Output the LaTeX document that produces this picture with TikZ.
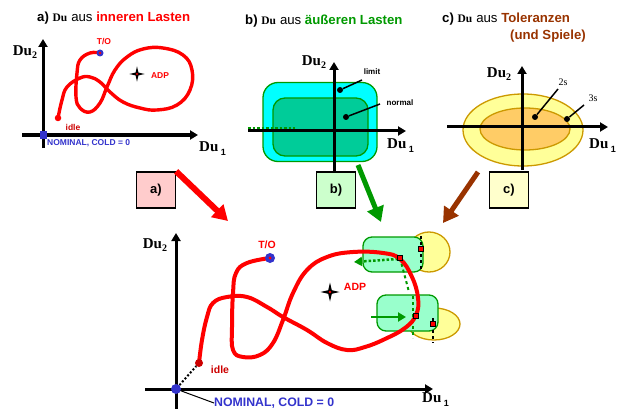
\documentclass[tikz,border=0pt]{standalone}
\usepackage{fontspec}
\setmainfont{Liberation Serif}
\setsansfont{Liberation Sans}
\usepackage{tikz}
\usetikzlibrary{arrows.meta}
\definecolor{LastRed}{HTML}{FF0000}
\definecolor{IdleRed}{HTML}{CC0000}
\definecolor{LastGreen}{HTML}{009900}
\definecolor{LastBrown}{HTML}{993300}
\definecolor{NomBlue}{HTML}{3333CC}
\definecolor{LimitCyan}{HTML}{00FFFF}
\definecolor{NormTeal}{HTML}{00CC99}
\definecolor{ZoneMint}{HTML}{99FFCC}
\definecolor{TolYellow}{HTML}{FFFF99}
\definecolor{TolGold}{HTML}{CC9900}
\definecolor{TolOrange}{HTML}{FFCC66}
\definecolor{BoxPink}{HTML}{FFCCCC}
\definecolor{BoxGreen}{HTML}{CCFFCC}
\definecolor{BoxYellow}{HTML}{FFFFCC}

\newcommand\DuTwo{{\rmfamily\bfseries\fontsize{15}{15}\selectfont Du\raisebox{-3pt}{\fontsize{10}{10}\selectfont 2}}}
\newcommand\DuOne{{\rmfamily\bfseries\fontsize{15}{15}\selectfont Du\,\raisebox{-4pt}{\sffamily\fontsize{9}{9}\selectfont 1}}}
\newcommand\DuT{{\rmfamily\bfseries\fontsize{11.5}{14}\selectfont Du}\hspace{4pt}}

\tikzset{
  duaxis/.style={line width=3pt, -{Triangle[length=8pt,width=9pt]}},
  loadpath/.style={LastRed, line width=3.4pt, line cap=round, line join=round},
  zone/.style={rectangle, draw=LastGreen, line width=1.3pt, inner sep=0pt, outer sep=0pt},
  tolring/.style={draw=TolGold, line width=1.3pt},
  statebox/.style={draw, line width=1.3pt, minimum width=39pt, minimum height=36pt, inner sep=0pt,
    font=\sffamily\bfseries\fontsize{13}{13}\selectfont},
  fatarrow/.style={line width=5pt, -{Triangle[length=15pt,width=17pt]}},
  smalltag/.style={font=\sffamily\bfseries\fontsize{8.5}{8.5}\selectfont, inner sep=0pt},
  bigtag/.style={font=\sffamily\bfseries\fontsize{10.5}{10.5}\selectfont, inner sep=0pt},
  checkpt/.style={draw=black, fill=LastRed, line width=1pt, minimum size=5pt, inner sep=0pt},
  blackdot/.style={circle, fill=black, minimum size=6pt, inner sep=0pt},
  adpstar/.pic={
    \fill[black] (0,-9.5) -- (1.8,-1.8) -- (9.5,0) -- (1.8,1.8) -- (0,9.5) -- (-1.8,1.8) -- (-9.5,0) -- (-1.8,-1.8) -- cycle;
    \fill[LastRed] (0,0) circle (1.4);
  }
}

\begin{document}
\begin{tikzpicture}[x=1pt,y=-1pt,font=\sffamily\fontsize{13.2}{15}\selectfont]
  \useasboundingbox (0,0) rectangle (618,409);

  % titles
  \node[anchor=base west, inner sep=0pt] (titlea) at (37,22)
    {\textbf{a)} \DuT aus \textcolor{LastRed}{\bfseries inneren Lasten}};
  \node[anchor=base west, inner sep=0pt] (titleb) at (245,25)
    {\textbf{b)} \DuT aus \textcolor{LastGreen}{\bfseries äußeren Lasten}};
  \node[anchor=base west, inner sep=0pt] (titlec) at (442,23)
    {\textbf{c)} \DuT aus \textcolor{LastBrown}{\bfseries Toleranzen}};
  \node[anchor=base west, inner sep=0pt, text=LastBrown, font=\sffamily\bfseries\fontsize{13.2}{15}\selectfont]
    (titlec2) at (510,40) {(und Spiele)};

  % a) inner loads
  \draw[duaxis] (22,135) -- (198,135);
  \draw[duaxis] (43,148) -- (43,39);
  \node (adu2) at (25,52) {\DuTwo};
  \node[anchor=west, inner sep=0pt] (adu1) at (199,149) {\DuOne};
  \draw[loadpath] plot[smooth, tension=0.7] coordinates {
    (58,118) (62,100) (67,87) (80,78) (90,77) (100,82) (110,92) (123,102) (140,108)
    (157,110) (177,105) (190,90) (192,70) (183,55) (163,48) (143,49) (127,57) (115,70)
    (107,87) (100,103) (90,112) (80,108) (76,97) (77,73) (80,60) (90,53) (100,53)};
  \node[circle, fill=LastRed, minimum size=6.5pt, inner sep=0pt] (aidle) at (58,118) {};
  \node[circle, fill=NomBlue, minimum size=7pt, inner sep=0pt] (ato) at (100,53) {};
  \fill[LastRed] (ato) circle (1.3);
  \node[fill=NomBlue, minimum size=7pt, inner sep=0pt] (aorigin) at (43,135) {};
  \node[smalltag, anchor=west, text=NomBlue] (anominal) at (47,143) {NOMINAL, COLD = 0};
  \node[smalltag, text=IdleRed] (aidletext) at (73,127) {idle};
  \node[smalltag, text=LastRed] (atotext) at (104,42) {T/O};
  \pic[scale=0.8] at (137,74) {adpstar};
  \node[smalltag, text=LastRed] (aadp) at (160,76) {ADP};

  % b) outer loads
  \node[zone, rounded corners=15pt, fill=LimitCyan, minimum width=114pt, minimum height=79pt] (limitzone) at (320,122) {};
  \node[zone, rounded corners=12pt, fill=NormTeal, minimum width=95pt, minimum height=58pt] (normalzone) at (320.5,127) {};
  \draw[LastGreen, line width=2.5pt, dotted] (248,128) -- (295,128);
  \draw[duaxis] (248,131) -- (406,131);
  \draw[duaxis] (334,173) -- (334,62);
  \node (bdu2) at (314,62) {\DuTwo};
  \node[anchor=west, inner sep=0pt] (bdu1) at (387,146) {\DuOne};
  \node[blackdot] (limitdot) at (340,90) {};
  \node[smalltag, font=\sffamily\bfseries\fontsize{8}{8}\selectfont] (limittext) at (372,72) {limit};
  \coordinate (limitend) at (362,80);
  \draw[line width=1.5pt] (limitdot) -- (limitend);
  \node[blackdot] (normaldot) at (346,117) {};
  \node[smalltag, font=\sffamily\bfseries\fontsize{8}{8}\selectfont] (normaltext) at (400,103) {normal};
  \coordinate (normalend) at (380,104);
  \draw[line width=1.5pt] (normaldot) -- (normalend);

  % c) tolerances
  \draw[tolring, fill=TolYellow] (523,130) ellipse [x radius=60, y radius=36];
  \draw[tolring, fill=TolOrange] (525,129) ellipse [x radius=45, y radius=21];
  \draw[duaxis] (447,127) -- (608,127);
  \draw[duaxis] (522,170) -- (522,66);
  \node (cdu2) at (499,74) {\DuTwo};
  \node[anchor=west, inner sep=0pt] (cdu1) at (589,146) {\DuOne};
  \node[blackdot] (twosdot) at (535,117) {};
  \node[inner sep=0pt, font=\rmfamily\fontsize{10}{10}\selectfont] (twostext) at (563,82) {2s};
  \coordinate (twosend) at (558,89);
  \draw[line width=1.5pt] (twosdot) -- (twosend);
  \node[blackdot] (threesdot) at (567,119) {};
  \node[inner sep=0pt, font=\rmfamily\fontsize{10}{10}\selectfont] (threestext) at (593,98) {3s};
  \coordinate (threesend) at (584,105);
  \draw[line width=1.5pt] (threesdot) -- (threesend);

  % boxes and arrows
  \node[statebox, fill=BoxPink] (boxa) at (156,190) {a)};
  \node[statebox, fill=BoxGreen] (boxb) at (336,190) {b)};
  \node[statebox, fill=BoxYellow] (boxc) at (509,190) {c)};
  \coordinate (ahead) at (228,221);
  \coordinate (bhead) at (381,222);
  \coordinate (bstart) at (358,165);
  \coordinate (chead) at (443,223);
  \coordinate (cstart) at (478,172);
  \draw[fatarrow, LastRed, line width=6pt] (boxa.north east) -- (ahead);
  \draw[fatarrow, LastGreen] (bstart) -- (bhead);
  \draw[fatarrow, LastBrown] (cstart) -- (chead);

  % combined plot
  \draw[tolring, fill=TolYellow] (429,252) ellipse [x radius=21, y radius=20];
  \draw[tolring, fill=TolYellow] (434,324) ellipse [x radius=26, y radius=16];
  \node[zone, rounded corners=9pt, fill=ZoneMint, minimum width=60pt, minimum height=35pt] (topzone) at (393,254.5) {};
  \node[zone, rounded corners=9pt, fill=ZoneMint, minimum width=61pt, minimum height=36pt] (botzone) at (407.5,313) {};
  \draw[LastGreen, line width=2pt, dashed] (400,258) -- (409,292);
  \draw[LastGreen, line width=2pt, dashed] (413,296) -- (413,338);
  \draw[LastGreen, line width=2.5pt, dotted, -{Triangle[length=8pt,width=9pt]}] (398,259) -- (354,262);
  \draw[LastGreen, line width=2pt, -{Triangle[length=8pt,width=9pt]}] (371,317) -- (406,317);
  \draw[duaxis] (145,389) -- (433,389);
  \draw[duaxis] (176,409) -- (176,233);
  \node (mdu2) at (155,245) {\DuTwo};
  \node[anchor=west, inner sep=0pt] (mdu1) at (422,400) {\DuOne};
  \draw[loadpath, line width=4pt] plot[smooth, tension=0.7] coordinates {
    (199,363) (202,340) (207,317) (213,303) (227,297) (247,297) (267,307) (283,317)
    (307,330) (327,343) (347,350) (365,347) (385,339) (405,328) (416,315) (418,298)
    (412,277) (400,259) (383,253) (353,252) (327,257) (307,270) (293,293) (283,320)
    (273,343) (260,355) (243,357) (233,350) (232,327) (233,293) (236,273) (247,263) (270,258)};
  \draw[line width=1.5pt, dashed] (421,236) -- (421,270);
  \draw[line width=1.5pt, dashed] (433,318) -- (433,343);
  \node[checkpt] (toppt) at (400,258) {};
  \node[checkpt] (toptol) at (421,249) {};
  \node[checkpt] (botpt) at (416,316) {};
  \node[checkpt] (bottol) at (433,324) {};
  \node[circle, fill=IdleRed, minimum size=8pt, inner sep=0pt] (midle) at (199,363) {};
  \node[circle, fill=NomBlue, minimum size=10pt, inner sep=0pt] (mto) at (270,258) {};
  \fill[LastRed] (mto) circle (1.6);
  \node[circle, fill=NomBlue, minimum size=10pt, inner sep=0pt] (morigin) at (176,389) {};
  \draw[line width=2pt, dotted] (morigin) -- (midle);
  \node[anchor=west, inner sep=0pt, text=NomBlue, font=\sffamily\bfseries\fontsize{12.3}{12.3}\selectfont]
    (mnominal) at (214,403) {NOMINAL, COLD = 0};
  \draw[line width=1pt] (morigin) -- (mnominal.west);
  \node[bigtag, text=IdleRed] (midletext) at (220,370) {idle};
  \node[bigtag, text=LastRed] (mtotext) at (267,245) {T/O};
  \pic at (330,292) {adpstar};
  \node[bigtag, text=LastRed] (madp) at (355,287) {ADP};
\end{tikzpicture}
\end{document}
